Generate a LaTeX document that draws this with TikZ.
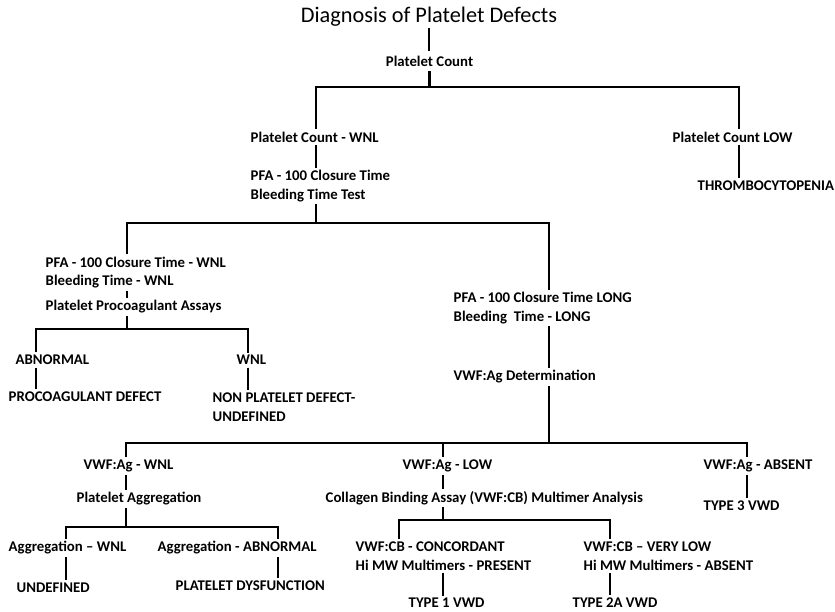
\documentclass[tikz,border=0pt]{standalone}
\usepackage{fontspec}
\setmainfont{Carlito}
\usepackage{tikz}
\usetikzlibrary{positioning, calc}

\begin{document}
\begin{tikzpicture}[x=1pt, y=-1pt,
    lbl/.style={anchor=west, inner xsep=0.5pt, inner ysep=2.5pt, align=left,
      font=\bfseries\fontsize{14.8}{18.5}\selectfont},
    ttl/.style={inner sep=1pt, font=\fontsize{22.3}{26}\selectfont},
    link/.style={line width=2.4pt}]
  \useasboundingbox (0,0) rectangle (835,611);

  % labels
  \node[ttl] (title) at (429,17) {Diagnosis of Platelet Defects};
  \node[lbl, anchor=center, inner ysep=5pt] (pc) at (429.5,61) {Platelet Count};
  \node[lbl] (pcw) at (250,137) {Platelet Count - WNL};
  \node[lbl] (pcl) at (672,137) {Platelet Count  LOW};
  \node[lbl] (thr) at (697,186) {THROMBOCYTOPENIA};
  \node[lbl] (pfa) at (250,186) {PFA - 100 Closure Time\\Bleeding Time Test};
  \node[lbl] (pfaw) at (45,272.5) {PFA - 100 Closure Time - WNL\\Bleeding Time - WNL};
  \node[lbl] (ppa) at (45,307) {Platelet Procoagulant  Assays};
  \node[lbl] (abn) at (15,360) {ABNORMAL};
  \node[lbl] (proc) at (8,397) {PROCOAGULANT DEFECT};
  \node[lbl] (wnl) at (236,360) {WNL};
  \node[lbl] (npd) at (212,407) {NON PLATELET DEFECT-\\UNDEFINED};
  \node[lbl] (pfal) at (453,308) {PFA - 100 Closure Time LONG\\Bleeding\ \ Time - LONG};
  \node[lbl] (vag) at (453,377) {VWF:Ag Determination};
  \node[lbl] (vagw) at (83,466) {VWF:Ag - WNL};
  \node[lbl] (pag) at (76,499) {Platelet Aggregation};
  \node[lbl] (aggw) at (8,548) {Aggregation -- WNL};
  \node[lbl] (und) at (16,588) {UNDEFINED};
  \node[lbl] (agga) at (157,548) {Aggregation - ABNORMAL};
  \node[lbl] (pdys) at (175,586) {PLATELET DYSFUNCTION};
  \node[lbl] (vagl) at (402,466) {VWF:Ag - LOW};
  \node[lbl] (cba) at (325,498) {Collagen Binding Assay (VWF:CB) Multimer Analysis};
  \node[lbl] (cbc) at (355,556) {VWF:CB - CONCORDANT\\Hi MW  Multimers - PRESENT};
  \node[lbl] (t1) at (408,603) {TYPE 1 VWD};
  \node[lbl] (cbv) at (583,556) {VWF:CB -- VERY LOW\\Hi MW  Multimers - ABSENT};
  \node[lbl] (t2a) at (572,603) {TYPE 2A VWD};
  \node[lbl] (vaga) at (703,466) {VWF:Ag - ABSENT};
  \node[lbl] (t3) at (703,506) {TYPE 3 VWD};

  % bar corners
  \coordinate (k1) at (316,87);  \coordinate (k2) at (739,87);
  \coordinate (k3) at (127,223); \coordinate (k4) at (549,223);
  \coordinate (k5) at (36,329);  \coordinate (k6) at (248,329);
  \coordinate (k7) at (126,443); \coordinate (k8) at (747,443);
  \coordinate (k9) at (443,443);
  \coordinate (k10) at (66,527); \coordinate (k11) at (278,527);
  \coordinate (k12) at (399,520); \coordinate (k13) at (610,520);

  % straight links
  \foreach \a/\b/\x in {title/pc/429, pcw/pfa/316, pcl/thr/739,
      pfaw/ppa/127, abn/proc/36, wnl/npd/248, pfal/vag/549,
      vagw/pag/126, aggw/und/66, agga/pdys/278, vagl/cba/443,
      cbc/t1/443, cbv/t2a/610, vaga/t3/747}
    \draw[link] (\a.south -| \x,0) -- (\b.north -| \x,0);

  % forks
  \draw[link] (pc.south) -- (pc.south |- k1);
  \draw[link] (pcw.north -| k1) -- (k1) -- (k2) -- (pcl.north -| k2);
  \draw[link] (pfa.south -| k1) -- (k1 |- k3);
  \draw[link] (pfaw.north -| k3) -- (k3) -- (k4) -- (pfal.north -| k4);
  \draw[link] (ppa.south -| k3) -- (k3 |- k5);
  \draw[link] (abn.north -| k5) -- (k5) -- (k6) -- (wnl.north -| k6);
  \draw[link] (vag.south -| k4) -- (k4 |- k7);
  \draw[link] (vagw.north -| k7) -- (k7) -- (k8) -- (vaga.north -| k8);
  \draw[link] (k9) -- (vagl.north -| k9);
  \draw[link] (pag.south -| k7) -- (k7 |- k10);
  \draw[link] (aggw.north -| k10) -- (k10) -- (k11) -- (agga.north -| k11);
  \draw[link] (cba.south -| k9) -- (k9 |- k12);
  \draw[link] (cbc.north -| k12) -- (k12) -- (k13) -- (cbv.north -| k13);
\end{tikzpicture}
\end{document}
